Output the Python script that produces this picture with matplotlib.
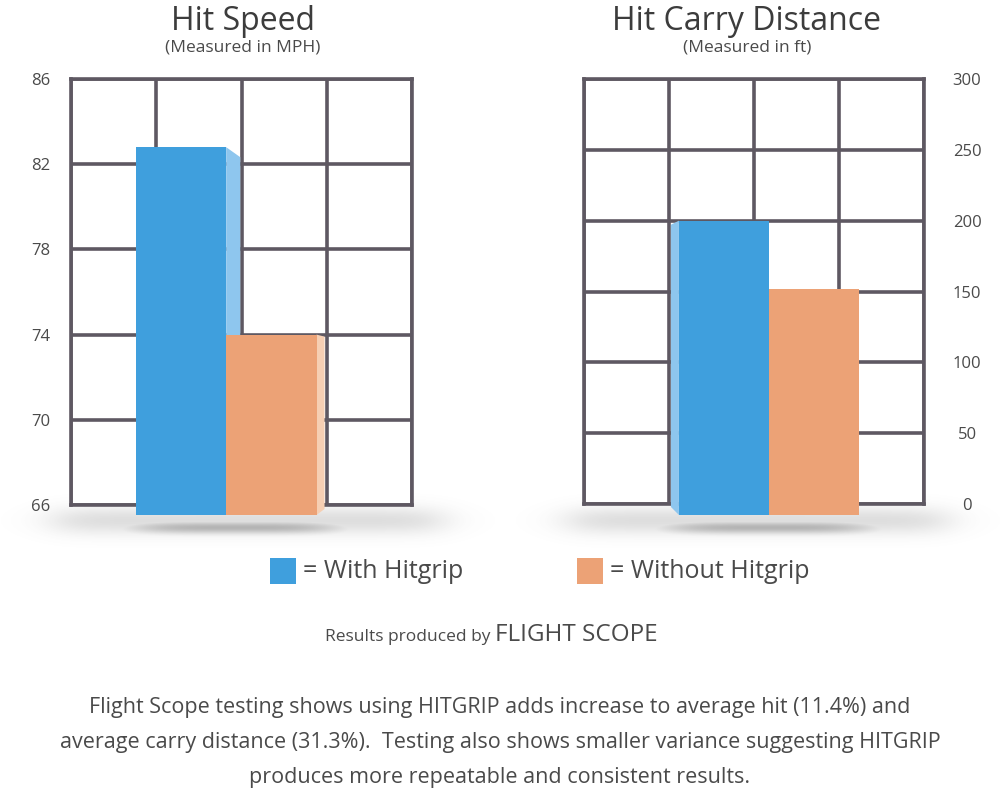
import numpy as np
import matplotlib
matplotlib.use("Agg")
import matplotlib.pyplot as plt
from matplotlib.patches import Polygon, Rectangle

# ---- data ----
series = ["With Hitgrip", "Without Hitgrip"]
speed_values = [82.8, 74.0]
carry_values = [200, 152]
speed_ticks = [66, 70, 74, 78, 82, 86]
carry_ticks = [0, 50, 100, 150, 200, 250, 300]
speed_title = "Hit Speed"
speed_sub = "(Measured in MPH)"
carry_title = "Hit Carry Distance"
carry_sub = "(Measured in ft)"
paragraph = [
    "Flight Scope testing shows using HITGRIP adds increase to average hit (11.4%) and",
    "average carry distance (31.3%).  Testing also shows smaller variance suggesting HITGRIP",
    "produces more repeatable and consistent results.",
]

# ---- style ----
FONT = ["Open Sans", "DejaVu Sans"]
plt.rcParams["font.family"] = FONT
BLUE = "#3f9fdd"
BLUE_SIDE = "#8ec6ee"
ORANGE = "#eca276"
ORANGE_SIDE = "#f6cfb3"
GRID = "#5e5862"
TXT = "#4a4a4a"

W, H = 1000, 801
fig = plt.figure(figsize=(W / 100, H / 100), dpi=100)
fig.patch.set_facecolor("white")

def fx(px):
    return px / W

def fy(py):
    return 1 - py / H

# ---- soft shadows (background image) ----
bg = fig.add_axes([0, 0, 1, 1], zorder=0)
bg.set_axis_off()
yy, xx = np.mgrid[0:H, 0:W]
alpha = np.zeros((H, W))
for (x0, x1, cx) in [(55, 440, 235), (570, 945, 768)]:
    band = np.exp(-((yy - 520) / 14.0) ** 2)
    edge = 1 / (1 + np.exp(-(xx - x0) / 14.0)) * 1 / (1 + np.exp((xx - x1) / 14.0))
    alpha = np.maximum(alpha, 0.2 * band * edge)
    ell = np.exp(-((yy - 527) / 6.5) ** 2 - ((xx - cx) / 110.0) ** 4)
    alpha = np.maximum(alpha, 0.45 * ell)
img = np.zeros((H, W, 4))
img[..., 0] = img[..., 1] = img[..., 2] = 0.35
img[..., 3] = alpha
bg.imshow(img, extent=[0, 1, 0, 1], aspect="auto", origin="upper", interpolation="bilinear")
bg.set_xlim(0, 1)
bg.set_ylim(0, 1)

def setup(ax, ticks, right=False):
    ax.set_facecolor("white")
    ax.set_xlim(0, 4)
    ax.set_ylim(ticks[0], ticks[-1])
    ax.set_xticks([0, 1, 2, 3, 4])
    ax.set_yticks(ticks)
    ax.set_xticklabels([])
    ax.grid(True, color=GRID, lw=2.6, zorder=1)
    ax.set_axisbelow(True)
    for s in ax.spines.values():
        s.set_color(GRID)
        s.set_linewidth(2.6)
        s.set_zorder(1.5)
    ax.tick_params(axis="x", length=0)
    if right:
        ax.yaxis.tick_right()
        ax.tick_params(axis="y", length=0, pad=31, labelsize=12, labelcolor=TXT)
        for t in ax.get_yticklabels():
            t.set_horizontalalignment("center")
    else:
        ax.tick_params(axis="y", length=0, pad=15, labelsize=12, labelcolor=TXT)

# ---- left chart ----
axL = fig.add_axes([fx(71), fy(505), fx(341), 426 / H], zorder=1)
setup(axL, speed_ticks)
spanL = speed_ticks[-1] - speed_ticks[0]
baseL = speed_ticks[0] - spanL * 10 / 426
xL = [1.29, 2.35]
bw = 1.06
colors = [BLUE, ORANGE]
bt = speed_values[0]
x1 = xL[0] + bw / 2
sideL = Polygon([(x1, bt), (x1 + 0.165, bt - spanL * 10 / 426),
                 (x1 + 0.165, baseL + spanL * 6 / 426), (x1, baseL)],
                closed=True, fc=BLUE_SIDE, ec="none", zorder=3, clip_on=False)
axL.add_patch(sideL)
ot = speed_values[1]
x2 = xL[1] + bw / 2
sideO = Polygon([(x2, ot), (x2 + 0.094, ot - spanL * 2 / 426),
                 (x2 + 0.094, baseL + spanL * 6 / 426), (x2, baseL)],
                closed=True, fc=ORANGE_SIDE, ec="none", zorder=3, clip_on=False)
axL.add_patch(sideO)
for x, v, c in zip(xL, speed_values, colors):
    axL.bar(x, v - baseL, bottom=baseL, width=bw, color=c, zorder=4, clip_on=False)

# ---- right chart ----
axR = fig.add_axes([fx(584), fy(504), fx(340), 425 / H], zorder=1)
setup(axR, carry_ticks, right=True)
spanR = carry_ticks[-1] - carry_ticks[0]
baseR = carry_ticks[0] - spanR * 11 / 425
xR = [1.647, 2.705]
bt = carry_values[0]
x0 = xR[0] - bw / 2
sideR = Polygon([(x0 - 0.094, bt - spanR * 4 / 425), (x0, bt),
                 (x0, baseR), (x0 - 0.094, baseR + spanR * 8 / 425)],
                closed=True, fc=BLUE_SIDE, ec="none", zorder=3, clip_on=False)
axR.add_patch(sideR)
for x, v, c in zip(xR, carry_values, colors):
    axR.bar(x, v - baseR, bottom=baseR, width=bw, color=c, zorder=4, clip_on=False)

# ---- titles ----
fig.text(fx(243), fy(22), speed_title, ha="center", va="center", fontsize=23, color="#3c3c3c")
fig.text(fx(243), fy(47), speed_sub, ha="center", va="center", fontsize=12.5, color=TXT)
fig.text(fx(747), fy(22), carry_title, ha="center", va="center", fontsize=23, color="#3c3c3c")
fig.text(fx(747), fy(47), carry_sub, ha="center", va="center", fontsize=12.5, color=TXT)

# ---- legend ----
for (sx, c, lab) in [(270, BLUE, series[0]), (577, ORANGE, series[1])]:
    fig.patches.append(Rectangle((fx(sx), fy(584)), fx(26), 26 / H, transform=fig.transFigure,
                                 fc=c, ec="none"))
    fig.text(fx(sx + 33), fy(571), "= " + lab, ha="left", va="center", fontsize=18, color=TXT)

# ---- source ----
t1 = fig.text(fx(325), fy(641), "Results produced by ", ha="left", va="baseline", fontsize=12.5, color=TXT)
fig.canvas.draw()
bb = t1.get_window_extent()
fig.text(bb.x1 / W, fy(641), "FLIGHT SCOPE", ha="left", va="baseline", fontsize=17.5, color=TXT)

# ---- paragraph ----
for i, line in enumerate(paragraph):
    fig.text(0.5, fy(707 + 35.5 * i), line, ha="center", va="center", fontsize=15.5, color=TXT)

fig.savefig("out.png", dpi=100, facecolor="white")
